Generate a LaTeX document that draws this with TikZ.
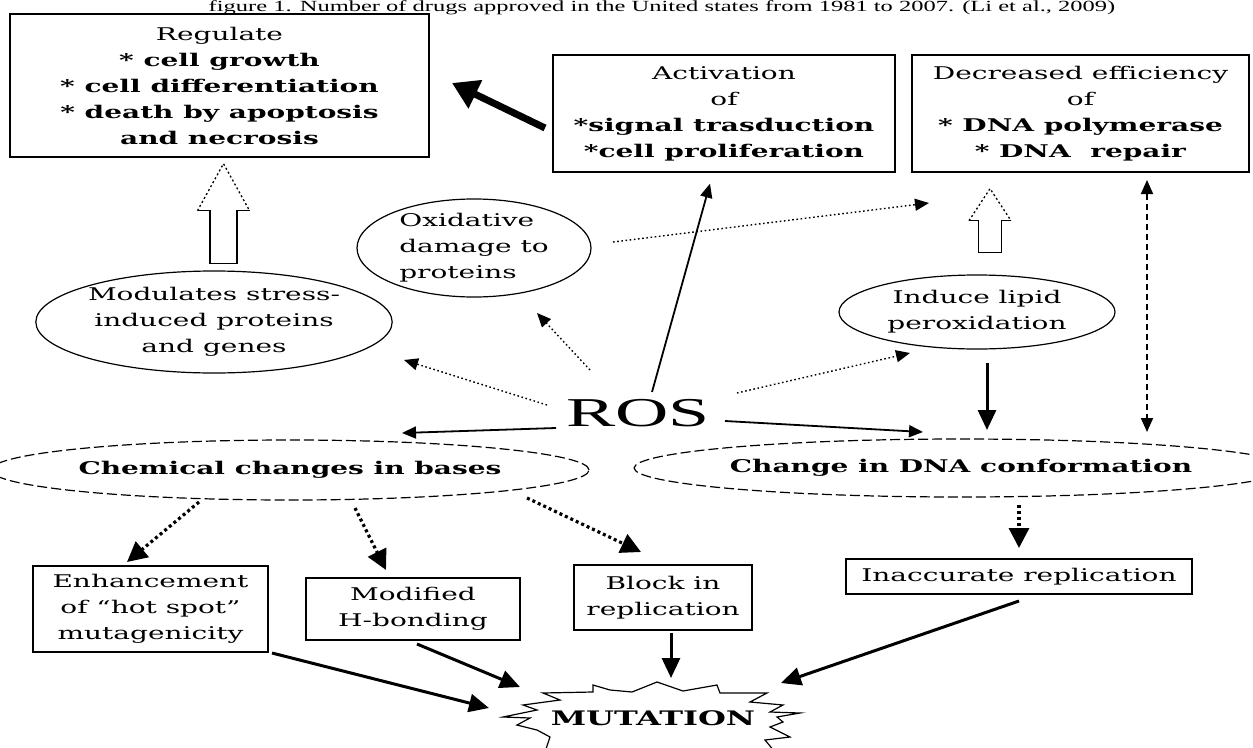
\documentclass[tikz,border=0pt]{standalone}
\usepackage{fontspec}
\setmainfont{DejaVu Serif}[FakeStretch=1.6]
\newfontfamily\titlefont{Liberation Serif}[FakeStretch=1.58]
\newfontfamily\rosfont{Liberation Serif}[FakeStretch=1.8]
\usetikzlibrary{arrows.meta,shapes.geometric,calc}
\begin{document}
\begin{tikzpicture}[x=1pt,y=-1pt,
  txt/.style={font=\fontsize{17.5}{26}\selectfont, align=center, inner sep=0pt},
  box/.style={txt, draw, line width=1.3pt, rectangle},
  oval/.style={txt, draw, ellipse, line width=1.2pt},
  dashoval/.style={oval, dash pattern=on 10pt off 4pt},
  arrtip/.style={-{Triangle[length=14pt,width=12pt]}},
  solidarrow/.style={line width=1.8pt, arrtip},
  dotarrow/.style={line width=1.4pt, dash pattern=on 1.6pt off 2.6pt, arrtip},
  heavyarrow/.style={line width=3pt, -{Triangle[length=20pt,width=18pt]}},
  heavydot/.style={line width=3.2pt, dash pattern=on 3pt off 3pt, -{Triangle[length=20pt,width=20pt]}},
  thickarrow/.style={line width=7pt, -{Triangle[length=26pt,width=30pt]}},
  dasharrow/.style={line width=1.8pt, dash pattern=on 6pt off 4pt, {Triangle[length=14pt,width=12pt]}-{Triangle[length=14pt,width=12pt]}},
  hollow/.style={line width=1.3pt},
  hollowhead/.style={line width=1.3pt, dash pattern=on 2pt off 2.5pt}
]
\useasboundingbox (0,0) rectangle (1253,747);
\clip (0,0) rectangle (1253,747);

% title
\node[anchor=base, inner sep=0pt, font=\titlefont\fontsize{15.5}{17}\selectfont] (title) at (662,11.5)
  {figure 1. Number of drugs approved in the United states from 1981 to 2007. (Li et al., 2009)};

% top boxes
\node[box, minimum width=419pt, minimum height=143pt] (reg) at (219.5,85.5)
  {Regulate\\\textbf{* cell growth}\\\textbf{* cell differentiation}\\\textbf{* death by apoptosis}\hspace*{50pt}\\\textbf{and necrosis}};
\node[box, minimum width=342pt, minimum height=117pt] (act) at (724,113.5)
  {Activation\\of\\\textbf{*signal trasduction}\\\textbf{*cell proliferation}};
\node[box, minimum width=337pt, minimum height=117pt] (dec) at (1080.5,113.5)
  {Decreased efficiency\\of\\\textbf{* DNA polymerase}\\\textbf{* DNA\ \ repair}};

% ellipses
\node[oval, align=left, minimum width=234pt, minimum height=98pt] (oxid) at (474,248)
  {Oxidative\\damage to\\proteins};
\node[oval, minimum width=356pt, minimum height=102pt] (modul) at (214,322)
  {Modulates stress-\\induced proteins\\and genes};
\node[oval, minimum width=276pt, minimum height=74pt] (lipid) at (977,312)
  {Induce lipid\\peroxidation};
\node[dashoval, minimum width=528pt, minimum height=60pt] (chem) at (290,470)
  {\textbf{Chemical changes in bases}};
\node[dashoval, minimum width=574pt, minimum height=58pt] (dnac) at (961,468)
  {\textbf{Change in DNA conformation}};

% ROS
\node[inner sep=0pt, font=\rosfont\fontsize{41}{41}\selectfont] (ros) at (638,413) {ROS};

% bottom boxes
\node[box, minimum width=235pt, minimum height=86pt] (enh) at (150.5,609)
  {Enhancement\\of \textquotedblleft hot spot\textquotedblright\\mutagenicity};
\node[box, minimum width=214pt, minimum height=62pt] (mod) at (413,609)
  {Modified\\H-bonding};
\node[box, minimum width=178pt, minimum height=65pt] (blk) at (663,597.5)
  {Block in\\replication};
\node[box, minimum width=346pt, minimum height=35pt] (inac) at (1019,576.5)
  {Inaccurate replication};

% MUTATION
\node[inner sep=0pt, font=\fontsize{20}{22}\selectfont\bfseries] (mut) at (653,718) {MUTATION};
\draw[line width=1.2pt, shift={(mut.center)}]
  (-110,-25) -- (-60,-26) -- (-60,-33) -- (-43,-28) -- (-21,-26) -- (4,-36) -- (30,-27)
  -- (64,-33) -- (67,-25) -- (114,-25)
  -- (97,-16) -- (130,-13) -- (117,-6) -- (147,-5) -- (124,-1) -- (130,4) -- (117,9)
  -- (137,19) -- (112,22) -- (122,34)
  -- (47,34) -- (-3,42) -- (-53,34) -- (-108,34)
  -- (-103,19) -- (-116,12) -- (-136,7) -- (-123,0) -- (-150,-1) -- (-116,-8)
  -- (-130,-13) -- (-93,-18) -- cycle;

% hollow arrows
\coordinate (ha1) at ($(reg.south)+(4,6)$);
\draw[hollow, shift={(ha1)}] (-26,47) -- (-13.5,47) -- (-13.5,100) -- (13.5,100) -- (13.5,47) -- (26,47);
\draw[hollowhead, shift={(ha1)}] (-26,47) -- (0,0) -- (26,47);
\coordinate (ha2) at ($(dec.south)+(-90.5,16)$);
\draw[hollow, shift={(ha2)}] (-21,32) -- (-11.5,32) -- (-11.5,64) -- (11.5,64) -- (11.5,32) -- (21,32);
\draw[hollowhead, shift={(ha2)}] (-21,32) -- (0,0) -- (21,32);

% connectors
\draw[thickarrow] ($(act.center)+(-179,14.5)$) -- ($(reg.center)+(232.5,-2.5)$);
\draw[solidarrow] ($(ros.center)+(14,-21)$) -- ($(act.south)+(-14,11)$);
\draw[dotarrow] ($(ros.center)+(-91,-8)$) -- ($(modul.center)+(190,38)$);
\draw[dotarrow] ($(ros.center)+(-48,-43)$) -- ($(oxid.center)+(63,65)$);
\draw[solidarrow] ($(ros.center)+(-82,15)$) -- ($(chem.center)+(112,-37)$);
\draw[dotarrow] ($(ros.center)+(99,-20)$) -- ($(lipid.center)+(-67,41)$);
\draw[solidarrow] ($(ros.center)+(87,8)$) -- ($(dnac.center)+(-38,-36)$);
\draw[dotarrow] ($(oxid.center)+(139,-6)$) -- ($(dec.center)+(-151.5,89.5)$);
\draw[heavyarrow] ($(lipid.center)+(10,51)$) -- ($(dnac.center)+(26,-38)$);
\draw[dasharrow] ($(dec.center)+(66.5,66.5)$) -- ($(dnac.center)+(186,-36)$);
\draw[heavydot] ($(chem.center)+(-91,32)$) -- ($(enh.center)+(-23.5,-47)$);
\draw[heavydot] ($(chem.center)+(65,38)$) -- ($(mod.center)+(-27,-39)$);
\draw[heavydot] ($(chem.center)+(237,28)$) -- ($(blk.center)+(-22,-45.5)$);
\draw[heavydot] ($(dnac.center)+(58,37)$) -- ($(inac.center)+(0,-28.5)$);
\draw[heavyarrow] ($(enh.center)+(121.5,44)$) -- ($(mut.center)+(-164,-10)$);
\draw[heavyarrow] ($(mod.center)+(4,35)$) -- ($(mut.center)+(-133,-31)$);
\draw[heavyarrow] ($(blk.center)+(8,35.5)$) -- ($(mut.center)+(18,-40)$);
\draw[heavyarrow] ($(inac.center)+(0,24.5)$) -- ($(mut.center)+(128,-35)$);
\end{tikzpicture}
\end{document}
